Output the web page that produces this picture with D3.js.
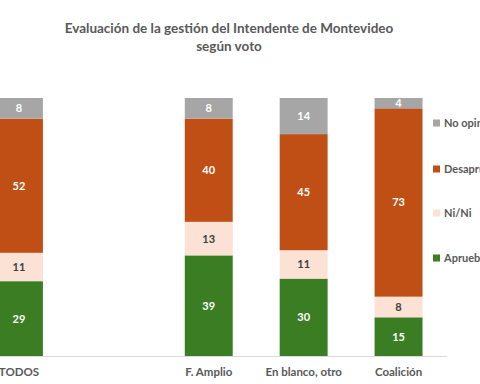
<!DOCTYPE html>
<html><head><meta charset="utf-8">
<script src="https://cdn.jsdelivr.net/npm/d3@7"></script>
<style>body{margin:0;background:#fff;overflow:hidden}svg{display:block}</style>
</head><body>
<script>
const categories = ["TODOS", "", "F. Amplio", "En blanco, otro", "Coalición"];
const seriesNames = ["Aprueba", "Ni/Ni", "Desaprueba", "No opina"];
const aprueba    = [29, null, 39, 30, 15];
const nini       = [11, null, 13, 11, 8];
const desaprueba = [52, null, 40, 45, 73];
const noOpina    = [8,  null, 8, 14, 4];
const colors = ["#3b7d23", "#fbe2d5", "#c04f15", "#a6a6a6"];
const labelColors = ["#ffffff", "#404040", "#ffffff", "#ffffff"];

const W = 480, H = 384;
const svg = d3.select("body").append("svg").attr("width", W).attr("height", H);
const font = "Lato, 'Open Sans', sans-serif";

svg.append("text").attr("x", 229).attr("y", 33).attr("text-anchor", "middle")
  .attr("font-family", font).attr("font-weight", 700).attr("font-size", 13.5)
  .attr("fill", "#595959").text("Evaluación de la gestión del Intendente de Montevideo");
svg.append("text").attr("x", 229).attr("y", 51).attr("text-anchor", "middle")
  .attr("font-family", font).attr("font-weight", 700).attr("font-size", 13.5)
  .attr("fill", "#595959").text("según voto");

const x = d3.scaleBand().domain(d3.range(categories.length)).range([-28.5, 446]).paddingInner(0.495).paddingOuter(0.2475);
const y = d3.scaleLinear().domain([0, 100]).range([356, 98]);

const rows = categories.map((c, i) => ({i, c, v: [aprueba[i], nini[i], desaprueba[i], noOpina[i]]}));
const series = seriesNames.map((n, k) => rows.filter(r => r.v[k] != null).map(r => {
  const y0 = d3.sum(r.v.slice(0, k)); return {i: r.i, y0, y1: y0 + r.v[k], val: r.v[k]};
}));

// axis line
svg.append("line").attr("x1", -28).attr("x2", 447).attr("y1", 356.5).attr("y2", 356.5)
  .attr("stroke", "#d9d9d9").attr("stroke-width", 1);

series.forEach((s, k) => {
  const g = svg.append("g");
  g.selectAll("rect").data(s).join("rect")
    .attr("x", d => x(d.i)).attr("width", x.bandwidth())
    .attr("y", d => y(d.y1)).attr("height", d => y(d.y0) - y(d.y1))
    .attr("fill", colors[k]);
  g.selectAll("text").data(s).join("text")
    .attr("x", d => x(d.i) + x.bandwidth() / 2)
    .attr("y", d => (y(d.y0) + y(d.y1)) / 2 + 4)
    .attr("text-anchor", "middle").attr("font-family", font).attr("font-weight", 700)
    .attr("font-size", 11).attr("fill", labelColors[k]).text(d => d.val);
});

// category labels
svg.append("g").selectAll("text").data(rows.filter(r => r.c)).join("text")
  .attr("x", d => x(d.i) + x.bandwidth() / 2).attr("y", 376)
  .attr("text-anchor", "middle").attr("font-family", font).attr("font-weight", 700)
  .attr("font-size", 11.5).attr("fill", "#595959").text(d => d.c);

// legend
const legY = [258, 213, 169, 123];
seriesNames.forEach((n, k) => {
  svg.append("rect").attr("x", 433).attr("y", legY[k] - 3.5).attr("width", 7).attr("height", 7).attr("fill", colors[k]);
  svg.append("text").attr("x", 444).attr("y", legY[k] + 4).attr("font-family", font).attr("font-weight", 700)
    .attr("font-size", 11).attr("fill", "#595959").text(n);
});
</script>
</body></html>
